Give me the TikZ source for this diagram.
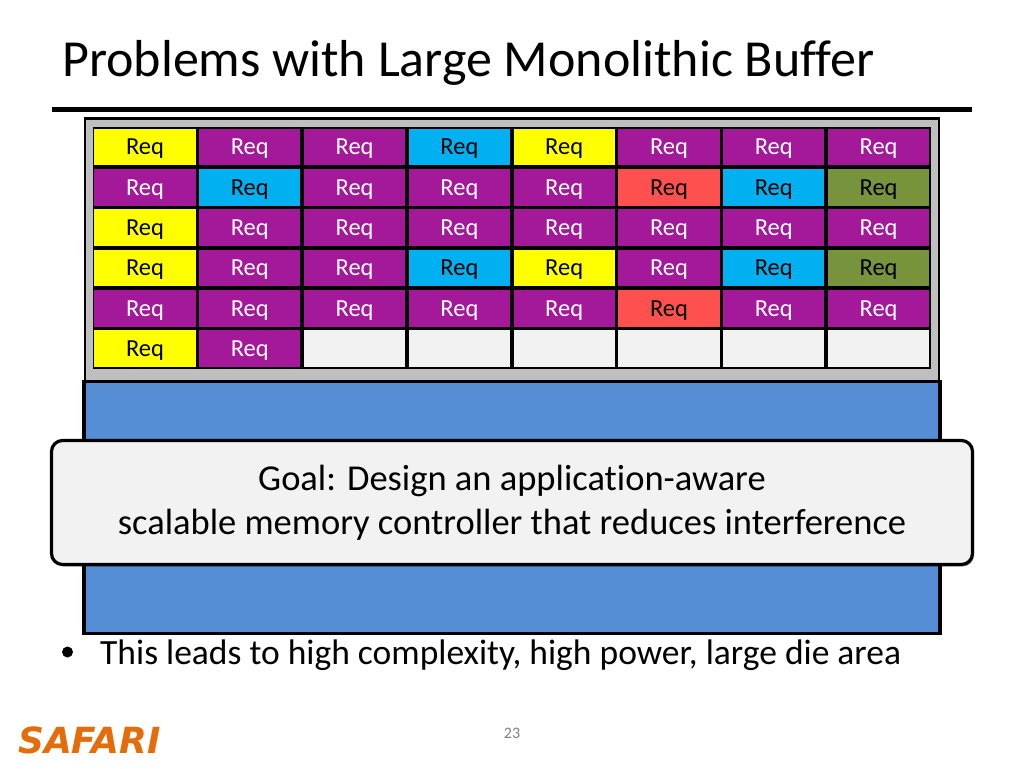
\documentclass[tikz,border=0pt]{standalone}
\usepackage{fontspec}
\setmainfont[RawFeature={-liga}]{Carlito}
\newfontfamily\logofont{DejaVu Sans}
\usetikzlibrary{shadows}
\definecolor{reqY}{HTML}{FFFF00}
\definecolor{reqP}{HTML}{A3199A}
\definecolor{reqB}{HTML}{00B0F0}
\definecolor{reqR}{HTML}{FF5050}
\definecolor{reqG}{HTML}{77933C}
\definecolor{reqE}{HTML}{F2F2F2}
\definecolor{bufgray}{HTML}{BFBFBF}
\definecolor{corefill}{HTML}{558ED5}
\definecolor{logocol}{HTML}{E46C0A}
\tikzset{
  cellbox/.style={draw=black,line width=1.8pt,minimum width=103pt,minimum height=38.5pt,inner sep=0pt,text depth=0pt,font=\fontsize{24.5}{26}\selectfont},
  cellY/.style={cellbox,fill=reqY,text=black},
  cellP/.style={cellbox,fill=reqP,text=white},
  cellB/.style={cellbox,fill=reqB,text=black},
  cellR/.style={cellbox,fill=reqR,text=black},
  cellG/.style={cellbox,fill=reqG,text=black},
  cellE/.style={cellbox,fill=reqE},
  softshadow/.style={drop shadow={shadow xshift=1.5pt,shadow yshift=-2pt,fill=black,opacity=0.35}}
}
\begin{document}
\begin{tikzpicture}[x=1pt,y=-1pt]
  \useasboundingbox (0,0) rectangle (1024,768);
  \fill[white] (0,0) rectangle (1024,768);
  \node[anchor=base west,inner sep=0pt,font=\fontsize{52}{56}\selectfont] (title) at (62,77) {Problems with Large Monolithic Buffer};
  \coordinate (ruleL) at (52,109.5);
  \coordinate (ruleR) at (972,109.5);
  \draw[line width=4.5pt,softshadow] (ruleL) -- (ruleR);
  % buffer and chip
  \node[draw=black,line width=3.2pt,fill=corefill,minimum width=856pt,minimum height=252pt,inner sep=0pt] (core) at (512,507.5) {};
  \node[draw=black,line width=2.5pt,fill=bufgray,minimum width=854pt,minimum height=263pt,inner sep=0pt] (buffer) at (512,250) {};
  % requests, row by row
  \foreach \rw/\cols in {0/{Y,P,P,B,Y,P,P,P},1/{P,B,P,P,P,R,B,G},2/{Y,P,P,P,P,P,P,P},3/{Y,P,P,B,Y,P,B,G},4/{P,P,P,P,P,R,P,P},5/{Y,P,E,E,E,E,E,E}}
    \foreach \kind [count=\cl from 0] in \cols {
      \if\kind E
        \node[cellE] (req\rw\cl) at (145+104.8*\cl,147+40.3*\rw) {};
      \else
        \node[cell\kind] (req\rw\cl) at (145+104.8*\cl,147+40.3*\rw) {Req};
      \fi
    }
  \node[draw=black,line width=3.2pt,fill=reqE,rounded corners=11pt,minimum width=921pt,minimum height=124pt,align=center,inner sep=0pt,softshadow,font=\fontsize{36.5}{44}\selectfont] (goal) at (512,502.5) {\raisebox{-4pt}{Goal: Design an application-aware}\\\raisebox{-4pt}{scalable memory controller that reduces interference}};
  \node[anchor=base west,inner sep=0pt,font=\fontsize{35.5}{42}\selectfont] (bullet) at (100,664) {This leads to high complexity, high power, large die area};
  \node[circle,fill=black,inner sep=0pt,minimum size=11pt] (dot) at (67.5,652) {};
  \node[anchor=base west,inner sep=0pt,text=logocol,font=\logofont\bfseries\itshape\fontsize{36}{40}\selectfont] (logo) at (18,753) {SAFARI};
  \node[inner sep=0pt,text=black!50,font=\fontsize{16}{18}\selectfont] (page) at (512,733) {23};
\end{tikzpicture}
\end{document}
